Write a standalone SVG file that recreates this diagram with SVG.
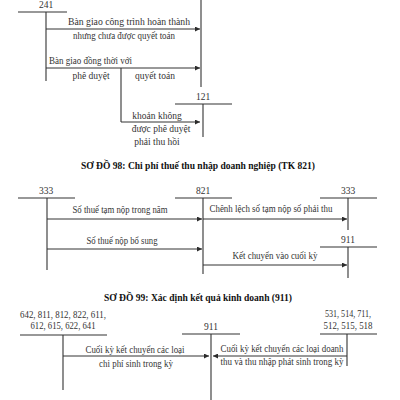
<svg xmlns="http://www.w3.org/2000/svg" width="400" height="400" viewBox="0 0 400 400">
<defs>
<marker id="ah" viewBox="0 0 10 10" refX="10" refY="5" markerWidth="7" markerHeight="5" markerUnits="userSpaceOnUse" orient="auto">
<path d="M0,0 L10,5 L0,10 z" fill="#2b2b2b"/>
</marker>
<style>
text{font-family:'Liberation Serif','Times New Roman','DejaVu Serif',serif}
.t{font-size:9.5px;fill:#333}
.m{text-anchor:middle}
.h{font-size:10px;font-weight:bold;fill:#111;text-anchor:middle}
.l{stroke:#333;stroke-width:1.1;fill:none}
.a{stroke:#333;stroke-width:1;fill:none;marker-end:url(#ah)}
</style>
</defs>
<rect width="400" height="400" fill="#fff"/>

<!-- Diagram 97 (partial) -->
<g id="acc241">
<text class="t m" x="46" y="8">241</text>
<path class="l" d="M18,12 H67 M46,12 V81"/>
</g>
<g id="accRight">
<path class="l" d="M201,0 V87"/>
</g>
<g id="acc121">
<text class="t m" x="203" y="100">121</text>
<path class="l" d="M175,104 H232 M203,104 V137"/>
</g>
<g id="connectors97">
<path class="a" d="M46,29 H200"/>
<text class="t m" x="129" y="25" textLength="122" lengthAdjust="spacingAndGlyphs">Bàn giao công trình hoàn thành</text>
<text class="t m" x="124" y="39" textLength="102" lengthAdjust="spacingAndGlyphs">nhưng chưa được quyết toán</text>
<path class="a" d="M46,68 H200"/>
<text class="t" x="49" y="64" textLength="83" lengthAdjust="spacingAndGlyphs">Bàn giao đồng thời với</text>
<text class="t m" x="91" y="79">phê duyệt</text>
<text class="t m" x="155" y="79">quyết toán</text>
<path class="l" d="M121,68 V122"/>
<path class="a" d="M121,122 H200"/>
<text class="t m" x="157" y="119">khoản không</text>
<text class="t m" x="161" y="132">được phê duyệt</text>
<text class="t m" x="157" y="145">phải thu hồi</text>
</g>

<!-- Diagram 98 -->
<text class="h" x="198" y="169" textLength="234" lengthAdjust="spacingAndGlyphs">SƠ ĐỒ 98: Chi phí thuế thu nhập doanh nghiệp (TK 821)</text>
<g id="acc333L">
<text class="t m" x="46" y="194">333</text>
<path class="l" d="M18,198 H75 M47,198 V270"/>
</g>
<g id="acc821">
<text class="t m" x="203" y="194">821</text>
<path class="l" d="M175,198 H232 M203,198 V274"/>
</g>
<g id="acc333R">
<text class="t m" x="348" y="194">333</text>
<path class="l" d="M320,198 H377 M348,198 V230"/>
</g>
<g id="acc911a">
<text class="t m" x="348" y="243">911</text>
<path class="l" d="M320,247 H377 M348,247 V278"/>
</g>
<g id="connectors98">
<path class="a" d="M47,219 H202"/>
<text class="t m" x="120" y="213" textLength="95" lengthAdjust="spacingAndGlyphs">Số thuế tạm nộp trong năm</text>
<path class="a" d="M47,249 H202"/>
<text class="t m" x="122" y="244" textLength="71" lengthAdjust="spacingAndGlyphs">Số thuế nộp bổ sung</text>
<path class="a" d="M203,219 H347"/>
<text class="t m" x="271" y="212" textLength="123" lengthAdjust="spacingAndGlyphs">Chênh lệch số tạm nộp số phải thu</text>
<path class="a" d="M203,265 H347"/>
<text class="t m" x="275" y="259" textLength="85" lengthAdjust="spacingAndGlyphs">Kết chuyển vào cuối kỳ</text>
</g>

<!-- Diagram 99 -->
<text class="h" x="198" y="301" textLength="188" lengthAdjust="spacingAndGlyphs">SƠ ĐỒ 99: Xác định kết quả kinh doanh (911)</text>
<g id="accCost">
<text class="t m" x="63" y="318" textLength="86" lengthAdjust="spacingAndGlyphs">642, 811, 812, 822, 611,</text>
<text class="t m" x="63" y="329" textLength="65" lengthAdjust="spacingAndGlyphs">612, 615, 622, 641</text>
<path class="l" d="M20,335 H107 M63,335 V390"/>
</g>
<g id="acc911b">
<text class="t m" x="211" y="330">911</text>
<path class="l" d="M182,334 H240 M211,334 V400"/>
</g>
<g id="accRev">
<text class="t m" x="348" y="317" textLength="46" lengthAdjust="spacingAndGlyphs">531, 514, 711,</text>
<text class="t m" x="348" y="329" textLength="49" lengthAdjust="spacingAndGlyphs">512, 515, 518</text>
<path class="l" d="M320,334 H377 M347,334 V366"/>
</g>
<g id="connectors99">
<path class="a" d="M63,356 H209"/>
<text class="t m" x="135" y="353" textLength="99" lengthAdjust="spacingAndGlyphs">Cuối kỳ kết chuyển các loại</text>
<text class="t m" x="136" y="367" textLength="74" lengthAdjust="spacingAndGlyphs">chi phí sinh trong kỳ</text>
<path class="a" d="M347,356 H213"/>
<text class="t m" x="282" y="352" textLength="123" lengthAdjust="spacingAndGlyphs">Cuối kỳ kết chuyển các loại doanh</text>
<text class="t m" x="282" y="365" textLength="123" lengthAdjust="spacingAndGlyphs">thu và thu nhập phát sinh trong kỳ</text>
</g>
</svg>
